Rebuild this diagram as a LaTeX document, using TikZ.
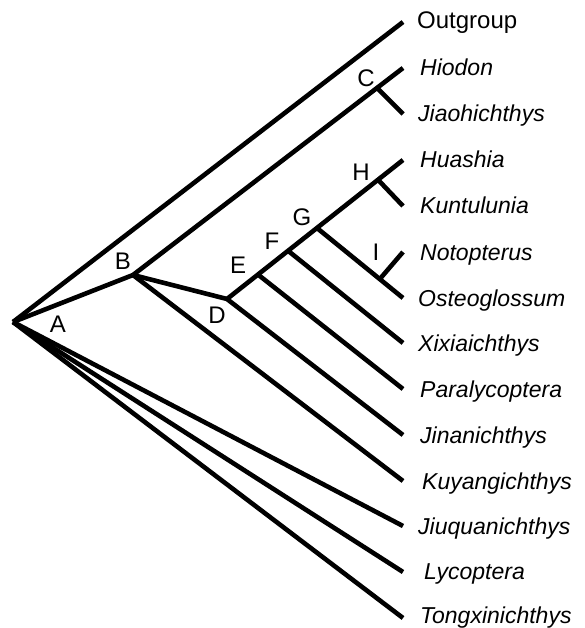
\documentclass[tikz,border=0pt]{standalone}
\usepackage{fontspec}
\setmainfont{Liberation Sans}
\usetikzlibrary{calc}
\begin{document}
\begin{tikzpicture}[x=1pt,y=-1pt,
  branch/.style={line width=4.6pt,line join=miter},
  taxon/.style={anchor=base west,inner sep=0pt,font=\fontsize{23}{27}\selectfont\itshape},
  plainname/.style={anchor=base west,inner sep=0pt,font=\fontsize{24}{28}\selectfont},
  clade/.style={inner sep=0pt,font=\fontsize{24}{28}\selectfont}]
\useasboundingbox (0,0) rectangle (584,628);

% internal nodes
\coordinate (R) at (13,322);
\coordinate (B) at (133,275);
\coordinate (C) at (377,88);
\coordinate (D) at (227,299);

% tips
\coordinate (tOut) at (403,22);
\coordinate (tHio) at (403,68);
\coordinate (tJia) at (403,114);
\coordinate (tHua) at (403,160);
\coordinate (tKun) at (403,206);
\coordinate (tNot) at (403,252);
\coordinate (tOst) at (403,298);
\coordinate (tXix) at (403,343);
\coordinate (tPar) at (403,389);
\coordinate (tJin) at (403,435);
\coordinate (tKuy) at (403,481);
\coordinate (tJiu) at (403,526);
\coordinate (tLyc) at (403,572);
\coordinate (tTon) at (403,618);

% nodes along the D--Huashia stem
\coordinate (E) at ($(D)!0.176!(tHua)$);
\coordinate (F) at ($(D)!0.347!(tHua)$);
\coordinate (G) at ($(D)!0.511!(tHua)$);
\coordinate (H) at ($(D)!0.858!(tHua)$);
\coordinate (I) at ($(G)!0.73!(tOst)$);

% branches
\draw[branch] (R) -- (tOut);
\draw[branch] (R) -- (B);
\draw[branch] (B) -- (tHio);
\draw[branch] (C) -- (tJia);
\draw[branch] (B) -- (D);
\draw[branch] (B) -- (tKuy);
\draw[branch] (D) -- (tHua);
\draw[branch] (D) -- (tJin);
\draw[branch] (E) -- (tPar);
\draw[branch] (F) -- (tXix);
\draw[branch] (G) -- (tOst);
\draw[branch] (H) -- (tKun);
\draw[branch] (I) -- (tNot);
\draw[branch] (R) -- (tJiu);
\draw[branch] (R) -- (tLyc);
\draw[branch] (R) -- (tTon);

% taxon names
\node[plainname] (nOut) at (417,29) {Outgroup};
\node[taxon] (nHio) at (420,76) {Hiodon};
\node[taxon] (nJia) at (418,122) {Jiaohichthys};
\node[taxon] (nHua) at (420,168) {Huashia};
\node[taxon] (nKun) at (420,214) {Kuntulunia};
\node[taxon] (nNot) at (420,260) {Notopterus};
\node[taxon] (nOst) at (418,306) {Osteoglossum};
\node[taxon] (nXix) at (418,351) {Xixiaichthys};
\node[taxon] (nPar) at (420,397) {Paralycoptera};
\node[taxon] (nJin) at (420,443) {Jinanichthys};
\node[taxon] (nKuy) at (422,489) {Kuyangichthys};
\node[taxon] (nJiu) at (418,534) {Jiuquanichthys};
\node[taxon] (nLyc) at (424,579) {Lycoptera};
\node[taxon] (nTon) at (420,623) {Tongxinichthys};

% clade letters
\node[clade] (lA) at (58,324) {A};
\node[clade] (lB) at (123,261) {B};
\node[clade] (lC) at (366,78) {C};
\node[clade] (lD) at (217,315) {D};
\node[clade] (lE) at (238,265) {E};
\node[clade] (lF) at (272,241) {F};
\node[clade] (lG) at (302,217) {G};
\node[clade] (lH) at (361,172) {H};
\node[clade] (lI) at (376,252) {I};
\end{tikzpicture}
\end{document}
